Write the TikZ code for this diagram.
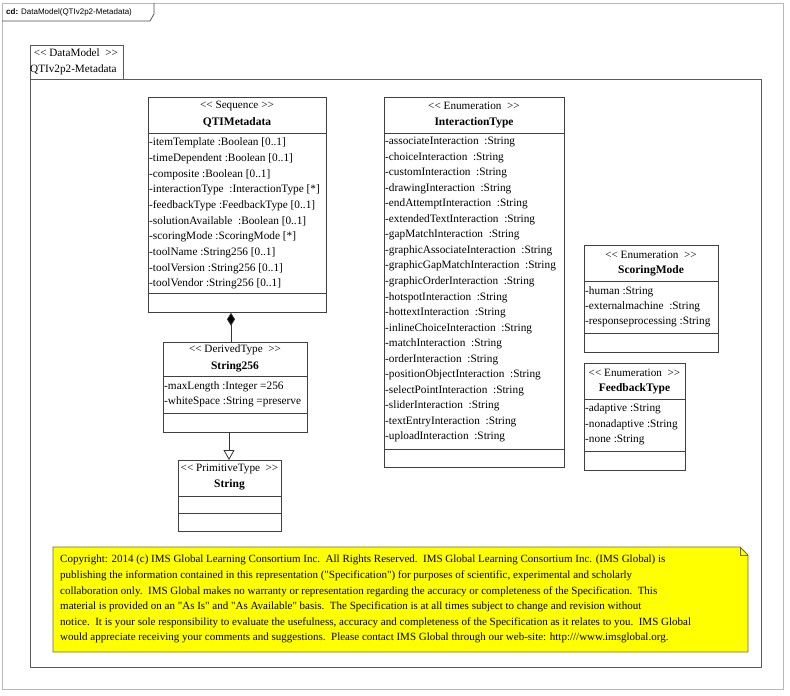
\documentclass[tikz,border=0pt]{standalone}
\usepackage{fontspec}
\setmainfont{Liberation Serif}
\setsansfont{Liberation Sans}
\newfontfamily\notefont{Liberation Serif}
\usetikzlibrary{arrows.meta}
\newcommand\stl{<\kern0pt<}
\newcommand\stg{>\kern0pt>}
\definecolor{noteyellow}{RGB}{255,255,0}
\definecolor{noteborder}{RGB}{110,110,40}
\begin{document}
\begin{tikzpicture}[x=1pt, y=-1pt,
    frameline/.style={draw=black!28, line width=0.9pt},
    pkgline/.style={draw=black!65, line width=0.8pt},
    classbox/.style={draw=black!75, fill=white, line width=0.8pt, inner sep=0pt, anchor=north west},
    sepline/.style={draw=black!75, line width=0.8pt},
    stereo/.style={font=\fontsize{11.2}{13}\selectfont, inner sep=0pt},
    cname/.style={font=\fontsize{11.5}{13}\selectfont\bfseries, inner sep=0pt},
    attr/.style={font=\fontsize{11.3}{13}\selectfont, inner sep=0pt, anchor=west},
    composition/.style={draw=black!80, line width=0.8pt, {Diamond[fill=black, length=13pt, width=8pt]}-},
    generalization/.style={draw=black!80, line width=0.8pt, -{Triangle[open, fill=white, length=10pt, width=11pt]}}]
  \useasboundingbox (0,0) rectangle (790,696);

  % Cadre du diagramme
  \draw[frameline] (2,3) rectangle (783,689);
  \draw[draw=black!70, line width=0.8pt] (2,21) -- (150,21) -- (154,14) -- (154,3);
  \node[anchor=west, inner sep=0pt, font=\sffamily\fontsize{8}{9}\selectfont] (cdtab) at (6,12)
    {\textbf{cd:} DataModel(QTIv2p2-Metadata)};

  % Paquetage
  \draw[pkgline] (30,79) rectangle (761,667);
  \draw[pkgline] (30,79) -- (30,45) -- (123,45) -- (123,79);
  \node[stereo] (pkgstereo) at (76,53) {\stl\ DataModel \ \stg};
  \node[stereo, anchor=west] (pkgname) at (30,70) {QTIv2p2-Metadata};

  % QTIMetadata
  \node[classbox, minimum width=178pt, minimum height=215pt] (qti) at (148,97) {};
  \node[stereo] (qtistereo) at (237,106) {\stl\ Sequence \stg};
  \node[cname] (qtiname) at (237,122) {QTIMetadata};
  \draw[sepline] (148,133) -- (326,133);
  \draw[sepline] (148,293) -- (326,293);
  \foreach \a [count=\i from 0] in {{-itemTemplate\ :Boolean [0..1]}, {-timeDependent\ :Boolean [0..1]},
      {-composite :Boolean [0..1]}, {-interactionType\ \ :InteractionType\ [*]},
      {-feedbackType :FeedbackType [0..1]}, {-solutionAvailable\ \ :Boolean [0..1]},
      {-scoringMode :ScoringMode [*]}, {-toolName :String256 [0..1]},
      {-toolVersion :String256 [0..1]}, {-toolVendor :String256 [0..1]}}
    \node[attr] (qtia\i) at (149,143+15.67*\i) {\a};

  % String256
  \node[classbox, minimum width=144pt, minimum height=90pt] (str256) at (163,342) {};
  \node[stereo] (s256stereo) at (235,350) {\stl\ DerivedType \ \stg};
  \node[cname] (s256name) at (235,367) {String256};
  \draw[sepline] (163,376) -- (307,376);
  \draw[sepline] (163,413) -- (307,413);
  \node[attr] (s256a0) at (164,387) {-maxLength\ :Integer =256};
  \node[attr] (s256a1) at (164,402) {-whiteSpace :String =preserve};

  % String
  \node[classbox, minimum width=103pt, minimum height=71pt] (str) at (178,460) {};
  \node[stereo] (strstereo) at (229.5,469) {\stl\ PrimitiveType \ \stg};
  \node[cname] (strname) at (229.5,485) {String};
  \draw[sepline] (178,496) -- (281,496);
  \draw[sepline] (178,513) -- (281,513);

  % InteractionType
  \node[classbox, minimum width=180pt, minimum height=370pt] (itype) at (384,97) {};
  \node[stereo] (itstereo) at (474,106) {\stl\ Enumeration \ \stg};
  \node[cname] (itname) at (474,123) {InteractionType};
  \draw[sepline] (384,133) -- (564,133);
  \draw[sepline] (384,449) -- (564,449);
  \foreach \a [count=\i from 0] in {associateInteraction, choiceInteraction, customInteraction,
      drawingInteraction, endAttemptInteraction, extendedTextInteraction, gapMatchInteraction,
      graphicAssociateInteraction, graphicGapMatchInteraction, graphicOrderInteraction,
      hotspotInteraction, hottextInteraction, inlineChoiceInteraction, matchInteraction,
      orderInteraction, positionObjectInteraction, selectPointInteraction, sliderInteraction,
      textEntryInteraction, uploadInteraction}
    \node[attr] (ita\i) at (385,142+15.53*\i) {-\a\ \ :String};

  % ScoringMode
  \node[classbox, minimum width=134pt, minimum height=107pt] (smode) at (584,245) {};
  \node[stereo] (smstereo) at (651,255) {\stl\ Enumeration \ \stg};
  \node[cname] (smname) at (651,271) {ScoringMode};
  \draw[sepline] (584,281) -- (718,281);
  \draw[sepline] (584,333) -- (718,333);
  \foreach \a [count=\i from 0] in {{-human :String}, {-externalmachine\ \ :String},
      {-responseprocessing\ :String}}
    \node[attr] (sma\i) at (585,292+15*\i) {\a};

  % FeedbackType
  \node[classbox, minimum width=101pt, minimum height=107pt] (fbtype) at (584,363) {};
  \node[stereo] (fbstereo) at (634.5,373) {\stl\ Enumeration \ \stg};
  \node[cname] (fbname) at (634.5,389) {FeedbackType};
  \draw[sepline] (584,399) -- (685,399);
  \draw[sepline] (584,451) -- (685,451);
  \foreach \a [count=\i from 0] in {{-adaptive :String}, {-nonadaptive :String}, {-none :String}}
    \node[attr] (fba\i) at (585,409+15.5*\i) {\a};

  % Liens
  \draw[composition] (qti.south -| 231,0) -- (str256.north -| 231,0);
  \draw[generalization] (str256.south -| 229,0) -- (str.north -| 229,0);

  % Note
  \draw[draw=noteborder, fill=noteyellow, line width=0.8pt]
    (53,547) -- (740,547) -- (748,555) -- (748,652) -- (53,652) -- cycle;
  \draw[draw=noteborder, line width=0.6pt] (740,547) -- (740,555) -- (748,555);
  \node[anchor=north west, inner sep=0pt, align=left, font=\notefont\fontsize{11}{15.6}\selectfont] (note) at (60,555)
    {Copyright: 2014 (c) IMS Global Learning Consortium Inc.\ \ All Rights Reserved.\ \ IMS Global Learning Consortium Inc. (IMS Global) is\\
     publishing the information contained in this representation ("Specification") for purposes of scientific, experimental and scholarly\\
     collaboration only.\ \ IMS Global makes no warranty or representation regarding the accuracy or completeness of the Specification.\ \ This\\
     material is provided on an "As Is" and "As Available" basis.\ \ The Specification is at all times subject to change and revision without\\
     notice.\ \ It is your sole responsibility to evaluate the usefulness, accuracy and completeness of the Specification as it relates to you.\ \ IMS Global\\
     would appreciate receiving your comments and suggestions.\ \ Please contact IMS Global through our web-site: http:///www.imsglobal.org.};
\end{tikzpicture}
\end{document}
